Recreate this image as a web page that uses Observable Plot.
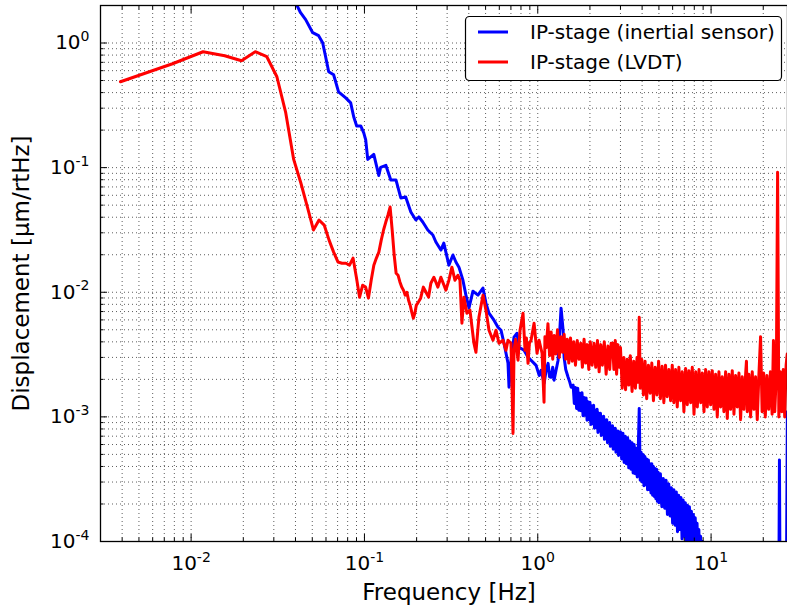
<!DOCTYPE html>
<html><head><meta charset="utf-8">
<script src="https://cdn.jsdelivr.net/npm/d3@7"></script>
<script src="https://cdn.jsdelivr.net/npm/@observablehq/plot@0.6"></script>
<style>
html,body{margin:0;padding:0;background:#fff;}
#chart{width:787px;height:612px;overflow:hidden;}
</style></head><body><div id="chart"></div>
<script>
// ---- data: [frequency (Hz), displacement (um/rtHz)] ----
const blueInertial = [
[0.0375,2.58],[0.0406,2.03],[0.0428,1.75],[0.0458,1.54],[0.0503,1.21],[0.0544,1.145],[0.0574,1.006],[0.0597,0.776],
[0.0622,0.588],[0.0664,0.556],[0.0709,0.406],[0.0780,0.363],[0.0833,0.331],[0.0867,0.256],[0.0902,0.216],[0.0952,0.216],
[0.0991,0.190],[0.1017,0.167],[0.1045,0.1164],[0.1132,0.1277],[0.1210,0.0866],[0.124,0.1004],[0.133,0.1042],[0.1419,0.0796],
[0.152,0.0796],[0.1621,0.0571],[0.173,0.0581],[0.1852,0.0440],[0.1980,0.0380],[0.2060,0.0402],[0.217,0.0366],[0.232,0.0316],
[0.2482,0.0288],[0.2583,0.0253],[0.2761,0.0218],[0.287,0.0248],[0.3071,0.0165],[0.324,0.0199],[0.337,0.0175],[0.3509,0.0159],
[0.370,0.0125],[0.385,0.00948],[0.401,0.0075],[0.4227,0.0102],[0.4518,0.00948],[0.4828,0.0108],[0.5025,0.00818],[0.5230,0.0068],
[0.5589,0.00597],[0.5895,0.00524],[0.6136,0.00496],[0.6386,0.0039],[0.6735,0.00269],[0.6826,0.00173],[0.7011,0.00285],[0.7295,0.00436],
[0.7592,0.00469],[0.7798,0.00362],[0.8334,0.00342],[0.8790,0.00301],[0.9148,0.00285],[0.9776,0.00259],[1.02,0.00215],[1.045,0.00237],
[1.088,0.00186],[1.12,0.0024],[1.147,0.00269],[1.17,0.0021],[1.194,0.00208],[1.22,0.0025],[1.242,0.00197],[1.27,0.0023],
[1.310,0.00285],[1.363,0.00745],[1.400,0.00496],[1.419,0.00301],[1.45,0.0024],[1.497,0.00208],[1.53,0.0019],[1.558,0.00173],
[1.600,1.80e-3],[1.625,1.28e-3],[1.650,1.72e-3],[1.675,1.17e-3],[1.700,1.70e-3],[1.725,1.13e-3],[1.750,1.55e-3],[1.775,1.12e-3],
[1.800,1.56e-3],[1.825,1.02e-3],[1.850,1.43e-3],[1.875,1.03e-3],[1.900,1.42e-3],[1.925,0.94e-3],[1.950,1.32e-3],[1.975,0.95e-3],
[2.000,1.31e-3],[2.025,0.87e-3],[2.050,1.22e-3],[2.075,0.88e-3],[2.100,1.24e-3],[2.125,0.81e-3],[2.150,1.13e-3],[2.175,0.82e-3],
[2.200,1.15e-3],[2.225,0.75e-3],[2.250,1.07e-3],[2.275,0.77e-3],[2.300,1.07e-3],[2.325,0.71e-3],[2.350,1.00e-3],[2.375,0.72e-3],
[2.400,1.01e-3],[2.425,0.66e-3],[2.450,0.94e-3],[2.475,0.68e-3],[2.500,0.95e-3],[2.525,0.62e-3],[2.550,0.89e-3],[2.575,0.64e-3],
[2.600,0.90e-3],[2.625,0.58e-3],[2.650,0.84e-3],[2.675,0.60e-3],[2.700,0.85e-3],[2.725,0.55e-3],[2.750,0.80e-3],[2.775,0.57e-3],
[2.800,0.81e-3],[2.825,0.52e-3],[2.850,0.76e-3],[2.875,0.54e-3],[2.900,0.77e-3],[2.925,0.49e-3],[2.950,0.73e-3],[2.975,0.51e-3],
[3.00,0.76e-3],[3.05,0.46e-3],[3.10,0.74e-3],[3.15,0.43e-3],[3.20,0.70e-3],[3.25,0.42e-3],[3.30,0.68e-3],[3.35,0.39e-3],
[3.40,0.64e-3],[3.45,0.38e-3],[3.50,0.62e-3],[3.55,0.355e-3],[3.60,0.60e-3],[3.65,0.35e-3],[3.70,0.56e-3],[3.75,0.33e-3],
[3.80,0.55e-3],[3.85,1.17e-3],[3.90,0.31e-3],[3.95,0.52e-3],[4.00,0.30e-3],[4.05,0.50e-3],[4.10,0.28e-3],[4.15,0.48e-3],
[4.20,0.285e-3],[4.25,0.46e-3],[4.30,0.26e-3],[4.35,0.45e-3],[4.40,0.26e-3],[4.45,0.42e-3],[4.50,0.245e-3],[4.55,0.42e-3],
[4.60,0.235e-3],[4.65,0.40e-3],[4.70,0.23e-3],[4.75,0.385e-3],[4.80,0.22e-3],[4.85,0.38e-3],[4.90,0.21e-3],[4.95,0.36e-3],
[5.0,0.205e-3],[5.1,0.35e-3],[5.2,0.19e-3],[5.3,0.32e-3],[5.4,0.185e-3],[5.5,0.31e-3],[5.6,0.165e-3],[5.7,0.29e-3],
[5.8,0.16e-3],[5.9,0.27e-3],[6.0,0.14e-3],[6.1,0.26e-3],[6.2,0.135e-3],[6.3,0.25e-3],[6.4,0.12e-3],[6.5,0.235e-3],
[6.6,0.125e-3],[6.7,0.225e-3],[6.8,0.105e-3],[6.9,0.215e-3],[7.0,0.11e-3],[7.1,0.205e-3],[7.2,0.095e-3],[7.3,0.195e-3],
[7.4,0.098e-3],[7.5,0.19e-3],[7.6,0.088e-3],[7.7,0.175e-3],[7.8,0.085e-3],[7.9,0.165e-3],[8.0,0.08e-3],[8.1,0.155e-3],
[8.2,0.075e-3],[8.3,0.14e-3],[8.4,0.07e-3],[8.5,0.125e-3],[8.6,0.066e-3],[8.7,0.11e-3],[8.8,0.062e-3],[8.9,0.10e-3],
[9.0,0.06e-3],[9.5,0.058e-3],[12,0.05e-3],[16,0.045e-3],[20,0.04e-3],[24.6,0.04e-3],[24.8,0.45e-3],[25.0,0.04e-3],
[27.2,0.045e-3],[27.55,1.1e-3]
];
const redLVDT = [
[0.00391,0.489],[0.00781,0.682],[0.01172,0.851],[0.01563,0.791],[0.01953,0.721],[0.02344,0.851],[0.02734,0.776],[0.03125,0.536],
[0.03516,0.275],[0.03906,0.1164],[0.04297,0.0753],[0.04688,0.0483],[0.05078,0.0316],[0.05469,0.038],[0.05859,0.0346],[0.0625,0.0262],
[0.06641,0.021],[0.07031,0.0175],[0.07422,0.0171],[0.07813,0.0171],[0.08203,0.0165],[0.08594,0.0188],[0.08984,0.0132],[0.09375,0.00913],
[0.09766,0.0114],[0.10156,0.011],[0.10547,0.00897],[0.10938,0.0125],[0.11328,0.0165],[0.11719,0.0188],[0.12109,0.021],[0.125,0.0262],
[0.12891,0.0316],[0.13281,0.0366],[0.13672,0.0417],[0.14063,0.0483],[0.14453,0.0316],[0.14844,0.0199],[0.15234,0.0142],[0.15625,0.0137],
[0.16016,0.0121],[0.16406,0.011],[0.16797,0.0104],[0.17188,0.00948],[0.17578,0.0100],[0.17969,0.00864],[0.18359,0.00787],[0.1875,0.00692],
[0.19141,0.00619],[0.19531,0.00679],[0.19922,0.00787],[0.20313,0.00818],[0.21094,0.00897],[0.21875,0.0110],[0.22656,0.0100],[0.23438,0.00913],
[0.2416,0.0118],[0.2516,0.0132],[0.2653,0.0110],[0.2761,0.0132],[0.2951,0.0104],[0.3072,0.0125],[0.3196,0.0159],[0.3327,0.0125],
[0.3462,0.0137],[0.3556,0.0125],[0.3651,0.00564],[0.3750,0.00913],[0.3903,0.00679],[0.4062,0.00718],[0.4283,0.0039],[0.4398,0.0033],
[0.4577,0.00631],[0.4828,0.00948],[0.5025,0.00718],[0.5231,0.00496],[0.5516,0.00412],[0.5741,0.00496],[0.5975,0.0039],[0.6301,0.00412],
[0.6557,0.00342],[0.6734,0.00412],[0.7009,0.0039],[0.7198,0.000737],[0.7295,0.00342],[0.745,0.0042],[0.7693,0.00285],[0.7901,0.00496],
[0.8222,0.00679],[0.8445,0.00342],[0.86,0.0043],[0.8788,0.00269],[0.8950,0.0039],[0.9147,0.00412],[0.9519,0.00564],[0.9907,0.00324],
[1.0175,0.00412],[1.059,0.00324],[1.087,0.00131],[1.10,0.0044],[1.12,0.0036],[1.145,0.0056],[1.17,0.0031],[1.195,0.0048],
[1.22,0.0029],[1.245,0.0045],[1.27,0.0032],[1.30,0.0050],[1.33,0.0030],[1.36,0.0044],[1.39,0.0033],[1.42,0.0046],
[1.45,0.0029],[1.48,0.0042],[1.51,0.0027],[1.545,0.0043],[1.58,0.0028],[1.615,0.0040],[1.65,0.0026],[1.69,0.0041],
[1.73,0.0029],[1.77,0.0039],[1.81,0.0025],[1.85,0.0042],[1.89,0.0027],[1.93,0.0038],[1.97,0.0024],[2.01,0.0040],
[2.06,0.0026],[2.11,0.0039],[2.16,0.0025],[2.21,0.0041],[2.26,0.0023],[2.31,0.0038],[2.36,0.0026],[2.42,0.0040],
[2.48,0.0022],[2.54,0.0037],[2.60,0.0024],[2.65,0.0039],
[2.7,3.9e-3],[2.75,2.4e-3],[2.8,4.1e-3],[2.85,2.2e-3],[2.9,3.8e-3],[2.95,2.5e-3],[3.0,3.6e-3],
[3.07,1.7e-3],[3.14,3.0e-3],[3.21,1.65e-3],[3.28,2.9e-3],[3.35,1.8e-3],[3.42,3.1e-3],[3.5,1.6e-3],[3.58,2.8e-3],
[3.66,1.7e-3],[3.74,3.0e-3],[3.8,1.9e-3],[3.85,6.3e-3],[3.9,1.7e-3],[3.98,2.9e-3],
[4.07,1.5e-3],[4.16,2.8e-3],[4.25,1.4e-3],[4.35,2.6e-3],[4.45,1.55e-3],[4.55,2.7e-3],[4.65,1.35e-3],[4.76,2.5e-3],
[4.87,1.5e-3],[4.98,2.8e-3],[5.1,1.4e-3],[5.22,2.55e-3],[5.34,1.3e-3],[5.46,2.6e-3],[5.58,1.45e-3],[5.71,2.4e-3],
[5.84,1.35e-3],[5.97,2.6e-3],
[6.1,1.3e-3],[6.24,2.4e-3],[6.38,1.2e-3],[6.52,2.5e-3],[6.67,1.35e-3],[6.82,2.3e-3],[6.97,1.1e-3],[7.13,2.45e-3],
[7.29,1.25e-3],[7.45,2.35e-3],[7.62,1.3e-3],[7.79,2.5e-3],[7.97,1.05e-3],[8.15,2.3e-3],[8.33,1.2e-3],[8.52,2.4e-3],
[8.71,1.3e-3],[8.9,2.25e-3],[9.1,1.1e-3],[9.3,2.4e-3],[9.51,1.2e-3],[9.72,2.3e-3],[9.94,1.25e-3],
[10.16,2.35e-3],[10.39,1.15e-3],[10.62,2.2e-3],[10.86,1.0e-3],[11.1,2.3e-3],[11.35,1.2e-3],[11.6,2.1e-3],[11.86,1.1e-3],
[12.13,2.3e-3],[12.4,0.97e-3],[12.68,2.2e-3],[12.96,1.15e-3],[13.25,2.35e-3],[13.55,1.05e-3],[13.85,2.15e-3],[14.16,1.2e-3],
[14.48,2.25e-3],[14.8,0.95e-3],[15.13,2.1e-3],[15.47,1.15e-3],[15.82,2.2e-3],[16.0,2.8e-3],[16.17,1.1e-3],[16.53,2.2e-3],
[16.9,1.0e-3],[17.28,2.3e-3],[17.67,1.15e-3],[18.06,2.1e-3],[18.47,0.95e-3],[18.88,2.2e-3],[19.3,4.4e-3],[19.7,1.1e-3],
[20.1,2.25e-3],[20.55,1.0e-3],[21.0,2.15e-3],[21.5,1.15e-3],[22.0,2.3e-3],[22.5,1.05e-3],[22.9,4.1e-3],[23.3,1.1e-3],
[23.8,2.2e-3],[24.2,0.092],[24.6,1.0e-3],[25.1,2.3e-3],[25.6,1.1e-3],[26.1,2.4e-3],[26.6,1.0e-3],[27.1,2.6e-3],[27.5,3.2e-3]
];
const seriesNames = ["IP-stage (inertial sensor)", "IP-stage (LVDT)"];
const seriesColors = ["#0000ff", "#ff0000"];
const xMajor = [0.01, 0.1, 1, 10];
const xMinor = [0.003,0.004,0.005,0.006,0.007,0.008,0.009,0.02,0.03,0.04,0.05,0.06,0.07,0.08,0.09,
  0.2,0.3,0.4,0.5,0.6,0.7,0.8,0.9,2,3,4,5,6,7,8,9,20];
const yMajor = [1e-4, 1e-3, 1e-2, 1e-1, 1];
const yMinor = [2e-4,3e-4,4e-4,5e-4,6e-4,7e-4,8e-4,9e-4,2e-3,3e-3,4e-3,5e-3,6e-3,7e-3,8e-3,9e-3,
  0.02,0.03,0.04,0.05,0.06,0.07,0.08,0.09,0.2,0.3,0.4,0.5,0.6,0.7,0.8,0.9,2];
const xLabel = "Frequency [Hz]";
const yLabel = "Displacement [μm/rtHz]";

const FONT = "'DejaVu Sans', sans-serif";
const sup = d => "10^" + Math.round(Math.log10(d));
const gridStyle = {stroke: "#000", strokeOpacity: 0.8, strokeWidth: 0.8, strokeDasharray: "1,3"};

const chart = Plot.plot({
  width: 787, height: 612,
  marginLeft: 100, marginRight: 0, marginTop: 5, marginBottom: 71,
  style: {fontFamily: FONT, background: "#fff", color: "#000"},
  x: {type: "log", domain: [0.003, 27.6]},
  y: {type: "log", domain: [1e-4, 2]},
  marks: [
    Plot.gridX(xMajor.concat(xMinor), gridStyle),
    Plot.gridY(yMajor.concat(yMinor), gridStyle),
    Plot.line(blueInertial, {x: d => d[0], y: d => d[1], stroke: seriesColors[0], strokeWidth: 3, clip: true}),
    Plot.line(redLVDT, {x: d => d[0], y: d => d[1], stroke: seriesColors[1], strokeWidth: 3, clip: true}),
    Plot.axisX(xMajor, {anchor: "bottom", tickSize: -7, fill: "none", label: null}),
    Plot.axisX(xMinor, {anchor: "bottom", tickSize: -3.5, fill: "none", label: null}),
    Plot.axisX(xMajor, {anchor: "top", tickSize: -7, fill: "none", label: null}),
    Plot.axisX(xMinor, {anchor: "top", tickSize: -3.5, fill: "none", label: null}),
    Plot.axisY(yMajor, {anchor: "left", tickSize: -7, fill: "none", label: null}),
    Plot.axisY(yMinor, {anchor: "left", tickSize: -3.5, fill: "none", label: null}),
    Plot.axisX(xMajor, {anchor: "bottom", tickSize: 0, tickPadding: 14.4, fontSize: 20, tickFormat: sup, label: null}),
    Plot.axisY(yMajor, {anchor: "left", tickSize: 0, tickPadding: 11, fontSize: 20, tickFormat: sup, label: null}),
    Plot.frame({stroke: "#000", strokeWidth: 1.3}),
    Plot.text([xLabel], {frameAnchor: "bottom", textAnchor: "middle", lineAnchor: "middle", dy: 51.5, dx: 5, fontSize: 23, text: d => d}),
    Plot.text([yLabel], {frameAnchor: "left", textAnchor: "middle", lineAnchor: "middle", rotate: -90, dx: -79, fontSize: 23, text: d => d})
  ]
});

// superscript exponents on tick labels
d3.select(chart).selectAll('g[aria-label="x-axis tick label"] text, g[aria-label="y-axis tick label"] text').each(function() {
  const t = d3.select(this);
  const m = t.text().match(/^10\^(.+)$/);
  if (!m) return;
  t.text(null);
  t.append("tspan").text("10");
  t.append("tspan").attr("dy", "-0.6em").attr("font-size", "14px").text(m[1]);
});

// legend
const lg = d3.select(chart).append("g").attr("font-family", FONT).attr("text-anchor", "start");
lg.append("rect").attr("x", 465.5).attr("y", 16.5).attr("width", 316).attr("height", 64).attr("rx", 4)
  .attr("fill", "#fff").attr("stroke", "#000").attr("stroke-width", 1.2);
seriesNames.forEach((name, i) => {
  const y = 32 + 30 * i;
  lg.append("line").attr("x1", 478).attr("x2", 508).attr("y1", y).attr("y2", y)
    .attr("stroke", seriesColors[i]).attr("stroke-width", 3);
  lg.append("text").attr("x", 530).attr("y", y + 6.8).attr("font-size", 20).attr("fill", "#000")
    .attr("text-anchor", "start").text(name);
});

document.getElementById("chart").appendChild(chart);
</script>
</body></html>
